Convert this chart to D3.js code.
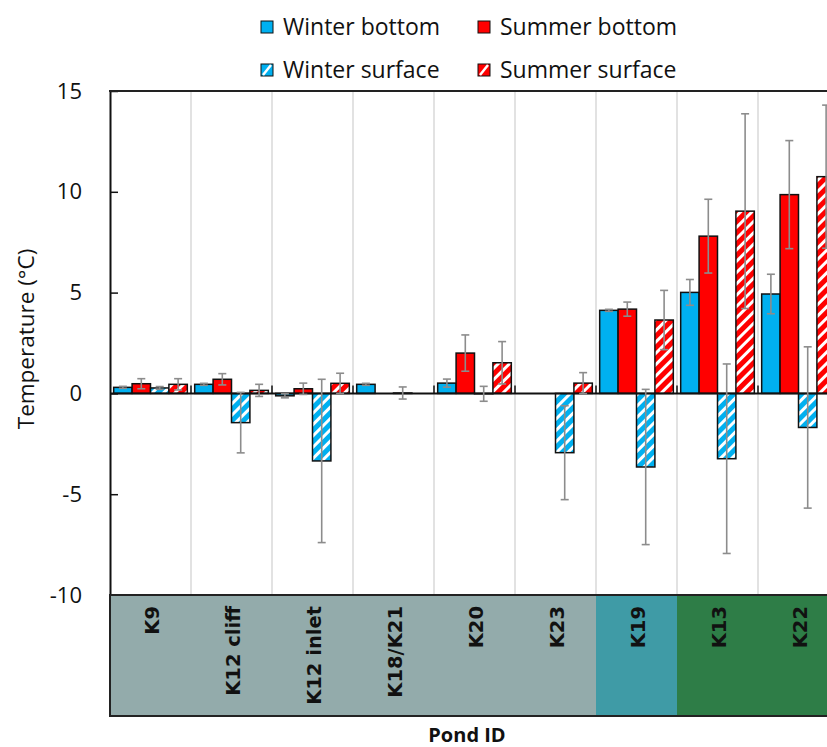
<!DOCTYPE html>
<meta charset="utf-8">
<script src="https://cdn.jsdelivr.net/npm/d3@7"></script>
<style>
body { margin: 0; background: #fff; }
svg { display: block; font-family: "Open Sans", sans-serif; }
</style>
<body>
<script>

// pond IDs and their class (panel colour under the x axis)
var ponds = ["K9", "K12 cliff", "K12 inlet", "K18/K21", "K20", "K23", "K19", "K13", "K22"];
var pondClass = ["a", "a", "a", "a", "a", "a", "b", "c", "c"];

// mean temperatures (°C) and error bar half-widths, null = no data
var winterBottom     = [0.30, 0.45, -0.12, 0.45, 0.51, null, 4.12, 5.01, 4.93];
var winterBottomErr  = [0.05, 0.05, 0.10, 0.05, 0.20, null, 0.05, 0.64, 0.98];
var summerBottom     = [0.48, 0.70, 0.23, null, 2.00, null, 4.18, 7.80, 9.86];
var summerBottomErr  = [0.25, 0.28, 0.28, null, 0.90, null, 0.35, 1.83, 2.68];
var winterSurface    = [0.27, -1.45, -3.35, 0.02, -0.02, -2.94, -3.65, -3.24, -1.69];
var winterSurfaceErr = [0.07, 1.50, 4.05, 0.30, 0.37, 2.33, 3.85, 4.70, 4.00];
var summerSurface    = [0.45, 0.15, 0.50, null, 1.52, 0.51, 3.64, 9.04, 10.75];
var summerSurfaceErr = [0.28, 0.30, 0.50, null, 1.05, 0.52, 1.47, 4.83, 3.55];

var yTicks = [-10, -5, 0, 5, 10, 15];

var series = [
  {name: "Winter bottom",  values: winterBottom,  err: winterBottomErr,  color: "#00b0f0", hatch: false},
  {name: "Summer bottom",  values: summerBottom,  err: summerBottomErr,  color: "#ff0000", hatch: false},
  {name: "Winter surface", values: winterSurface, err: winterSurfaceErr, color: "#00b0f0", hatch: true},
  {name: "Summer surface", values: summerSurface, err: summerSurfaceErr, color: "#ff0000", hatch: true}
];
var classColor = {a: "#93abab", b: "#3f9ba6", c: "#2e7d47"};

var W = 827, H = 747;
var margin = {top: 91, left: 110};
var plotW = 729, plotH = 504;

var svg = d3.select("body").append("svg")
    .attr("width", W)
    .attr("height", H);

var defs = svg.append("defs");
series.filter(function(s) { return s.hatch; }).forEach(function(s, i) {
  var p = defs.append("pattern")
      .attr("id", "hatch" + i)
      .attr("patternUnits", "userSpaceOnUse")
      .attr("width", 8).attr("height", 8)
      .attr("patternTransform", "rotate(45)");
  p.append("rect").attr("width", 8).attr("height", 8).attr("fill", s.color);
  p.append("rect").attr("width", 3).attr("height", 8).attr("fill", "#fff");
  s.fill = "url(#hatch" + i + ")";
});
series.forEach(function(s) { if (!s.hatch) s.fill = s.color; });

var x = d3.scaleBand()
    .domain(ponds)
    .range([margin.left, margin.left + plotW]);
var xs = d3.scaleBand()
    .domain(series.map(function(s) { return s.name; }))
    .range([0, x.bandwidth()])
    .paddingOuter(0.2);
var y = d3.scaleLinear()
    .domain([-10, 15])
    .range([margin.top + plotH, margin.top]);

// vertical gridlines between groups
svg.append("g").selectAll("line")
    .data(ponds)
  .enter().append("line")
    .attr("x1", function(d) { return x(d) + x.bandwidth(); })
    .attr("x2", function(d) { return x(d) + x.bandwidth(); })
    .attr("y1", y(15)).attr("y2", y(-10))
    .attr("stroke", "#d9d9d9").attr("stroke-width", 1.5);

// bars
var groups = svg.append("g").selectAll("g")
    .data(series)
  .enter().append("g");
groups.selectAll("rect")
    .data(function(s) {
      return s.values.map(function(v, i) { return {s: s, pond: ponds[i], v: v}; })
        .filter(function(d) { return d.v !== null; });
    })
  .enter().append("rect")
    .attr("x", function(d) { return x(d.pond) + xs(d.s.name); })
    .attr("width", xs.bandwidth())
    .attr("y", function(d) { return y(Math.max(0, d.v)); })
    .attr("height", function(d) { return Math.abs(y(d.v) - y(0)); })
    .attr("fill", function(d) { return d.s.fill; })
    .attr("stroke", "#111").attr("stroke-width", 1.5);

// zero axis line and category ticks
svg.append("line")
    .attr("x1", margin.left).attr("x2", W)
    .attr("y1", y(0)).attr("y2", y(0))
    .attr("stroke", "#111").attr("stroke-width", 2);
svg.append("g").selectAll("line")
    .data(ponds)
  .enter().append("line")
    .attr("x1", function(d) { return x(d) + x.bandwidth(); })
    .attr("x2", function(d) { return x(d) + x.bandwidth(); })
    .attr("y1", y(0) - 8).attr("y2", y(0))
    .attr("stroke", "#111").attr("stroke-width", 1.5);

// error bars
var eb = svg.append("g").attr("stroke", "#8c8c8c").attr("stroke-width", 1.6);
series.forEach(function(s) {
  s.values.forEach(function(v, i) {
    if (v === null) return;
    var cx = x(ponds[i]) + xs(s.name) + xs.bandwidth() / 2;
    var lo = y(v - s.err[i]), hi = y(v + s.err[i]);
    eb.append("line").attr("x1", cx).attr("x2", cx).attr("y1", lo).attr("y2", hi);
    eb.append("line").attr("x1", cx - 4).attr("x2", cx + 4).attr("y1", lo).attr("y2", lo);
    eb.append("line").attr("x1", cx - 4).attr("x2", cx + 4).attr("y1", hi).attr("y2", hi);
  });
});

// y axis
var yAxis = svg.append("g")
    .attr("transform", "translate(" + margin.left + ",0)")
    .call(d3.axisLeft(y).tickValues(yTicks).tickFormat(function(d) { return String(d); })
      .tickSizeInner(-8).tickSizeOuter(0).tickPadding(28));
yAxis.select(".domain").attr("stroke", "#111").attr("stroke-width", 2);
yAxis.selectAll(".tick line").attr("stroke", "#111").attr("stroke-width", 1.5);
yAxis.selectAll(".tick text")
    .attr("font-family", "Open Sans, sans-serif")
    .attr("font-size", 22).attr("fill", "#111");

// top border
svg.append("line")
    .attr("x1", margin.left - 1).attr("x2", W)
    .attr("y1", y(15)).attr("y2", y(15))
    .attr("stroke", "#222").attr("stroke-width", 2);

svg.append("text")
    .attr("transform", "translate(34," + (margin.top + plotH / 2 - 4) + ") rotate(-90)")
    .attr("text-anchor", "middle")
    .attr("font-size", 22.5).attr("fill", "#111")
    .text("Temperature (°C)");

// category panel
var panelTop = y(-10), panelH = 121;
svg.append("g").selectAll("rect")
    .data(ponds)
  .enter().append("rect")
    .attr("x", function(d) { return x(d); })
    .attr("width", x.bandwidth() + 0.5)
    .attr("y", panelTop).attr("height", panelH)
    .attr("fill", function(d, i) { return classColor[pondClass[i]]; });
svg.append("rect")
    .attr("x", margin.left).attr("y", panelTop)
    .attr("width", plotW).attr("height", panelH)
    .attr("fill", "none").attr("stroke", "#222").attr("stroke-width", 2);
svg.append("g").selectAll("text")
    .data(ponds)
  .enter().append("text")
    .attr("transform", function(d) {
      return "translate(" + (x(d) + x.bandwidth() / 2 + 8) + "," + (panelTop + 11) + ") rotate(-90)";
    })
    .attr("text-anchor", "end")
    .attr("font-family", "DejaVu Sans, sans-serif")
    .attr("font-weight", "bold")
    .attr("font-size", 19.5).attr("fill", "#111")
    .text(function(d) { return d; });

svg.append("text")
    .attr("x", 467).attr("y", 742)
    .attr("text-anchor", "middle")
    .attr("font-size", 20).attr("font-weight", "bold").attr("fill", "#111")
    .text("Pond ID");

// legend
var legPos = [[261, 27], [478, 27], [261, 70], [478, 70]];
var leg = svg.append("g").selectAll("g")
    .data(series)
  .enter().append("g")
    .attr("transform", function(d, i) { return "translate(" + legPos[i][0] + "," + legPos[i][1] + ")"; });
leg.append("rect")
    .attr("x", 0).attr("y", -6).attr("width", 12).attr("height", 12)
    .attr("fill", function(d) { return d.color; })
    .attr("stroke", "#111").attr("stroke-width", 1);
leg.filter(function(d) { return d.hatch; }).append("line")
    .attr("x1", 2).attr("y1", 5).attr("x2", 10).attr("y2", -5)
    .attr("stroke", "#fff").attr("stroke-width", 2.5);
leg.append("text")
    .attr("x", 22).attr("y", 0).attr("dy", "0.35em")
    .attr("font-size", 23).attr("fill", "#111")
    .text(function(d) { return d.name; });

</script>
</body>
